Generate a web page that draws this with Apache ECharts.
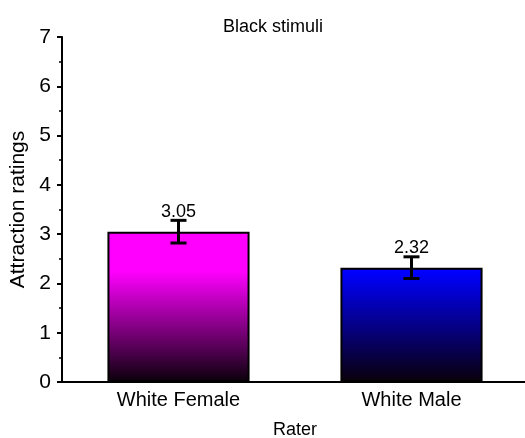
<!DOCTYPE html>
<html><head><meta charset="utf-8">
<script src="https://cdn.jsdelivr.net/npm/echarts@6/dist/echarts.min.js"></script>
<style>html,body{margin:0;padding:0;background:#fff}#c{width:525px;height:438px}</style>
</head><body><div id="c"></div>
<script>
const categories = ['White Female', 'White Male'];
const means = [3.05, 2.32];
const errors = [0.23, 0.22];
const topColors = ['#FF00FF', '#0000FF'];
const yTicks = [0, 1, 2, 3, 4, 5, 6, 7];

const FONT = '"Liberation Sans", Arial, sans-serif';
const GRID = { left: 62, top: 37, width: 466, height: 345 };
const Y_MAX = 7;
const FADE_FROM = 2.25; // value above which bar colour is full
const chart = echarts.init(document.getElementById('c'));

function valToPx(v) { return GRID.top + GRID.height * (1 - v / Y_MAX); }

function grad(c) {
  return new echarts.graphic.LinearGradient(0, valToPx(FADE_FROM), 0, valToPx(0), [
    { offset: 0, color: c }, { offset: 1, color: '#0a000a' }
  ], true);
}

chart.setOption({
  animation: false,
  title: { text: 'Black stimuli', left: 268, top: 13, textAlign: 'center',
    textStyle: { fontFamily: FONT, fontSize: 18, fontWeight: 'normal', color: '#000' } },
  grid: Object.assign({ containLabel: false, outerBoundsMode: 'none' }, GRID),
  xAxis: [{
    type: 'category', data: categories,
    name: 'Rater', nameLocation: 'middle', nameGap: 39,
    nameTextStyle: { fontFamily: FONT, fontSize: 18, color: '#000' },
    axisLine: { lineStyle: { color: '#000', width: 2 } },
    axisTick: { alignWithLabel: true, length: 6, lineStyle: { color: '#000', width: 2 } },
    axisLabel: { fontFamily: FONT, fontSize: 20, color: '#000', margin: 8 }
  }, {
    type: 'category', data: categories, position: 'bottom',
    axisLine: { show: false },
    axisTick: { length: 4, lineStyle: { color: '#000', width: 2 } },
    axisLabel: { show: false }
  }],
  yAxis: {
    type: 'value', min: 0, max: Y_MAX, interval: 1,
    name: 'Attraction ratings', nameLocation: 'middle', nameGap: 30,
    nameTextStyle: { fontFamily: FONT, fontSize: 21, color: '#000' },
    axisLine: { show: true, lineStyle: { color: '#000', width: 2 } },
    axisTick: { show: true, length: 5, lineStyle: { color: '#000', width: 2 } },
    minorTick: { show: true, splitNumber: 2, length: 3, lineStyle: { color: '#000', width: 1.5 } },
    splitLine: { show: false },
    axisLabel: { fontFamily: FONT, fontSize: 21, color: '#000', margin: 11,
      formatter: v => yTicks.includes(v) ? String(v) : '' }
  },
  series: [{
    type: 'bar', barWidth: '61%',
    data: means.map((v, i) => ({ value: v, itemStyle: { color: grad(topColors[i]) } })),
    itemStyle: { borderColor: '#000', borderWidth: 2 },
    label: { show: true, position: 'top', distance: 11, fontFamily: FONT, fontSize: 18, color: '#000',
      formatter: p => p.value.toFixed(2) },
    z: 2
  }, {
    type: 'custom',
    data: means.map((v, i) => [i, v - errors[i], v + errors[i]]),
    renderItem: function (params, api) {
      const lo = api.coord([api.value(0), api.value(1)]);
      const hi = api.coord([api.value(0), api.value(2)]);
      const hw = 8;
      const st = { stroke: '#000', lineWidth: 3 };
      return { type: 'group', children: [
        { type: 'line', shape: { x1: hi[0], y1: hi[1], x2: lo[0], y2: lo[1] }, style: st },
        { type: 'line', shape: { x1: hi[0] - hw, y1: hi[1], x2: hi[0] + hw, y2: hi[1] }, style: st },
        { type: 'line', shape: { x1: lo[0] - hw, y1: lo[1], x2: lo[0] + hw, y2: lo[1] }, style: st }
      ] };
    },
    z: 3
  }]
});
</script></body></html>
